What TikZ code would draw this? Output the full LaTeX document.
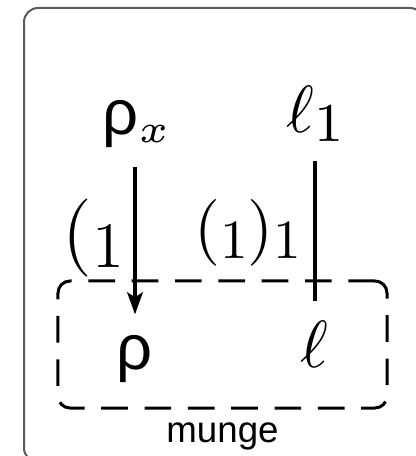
\documentclass[tikz,border=0pt]{standalone}
\usepackage{graphicx}
\usepackage{fontspec}
\usepackage{unicode-math}
\setsansfont{Liberation Sans}
\setmathfont{Latin Modern Math}
\usetikzlibrary{arrows.meta,positioning}
\definecolor{framegray}{RGB}{90,90,90}
\newcommand{\lowsub}[1]{\raisebox{-0.13em}{\scalebox{0.83}{#1}}}

\begin{document}
\begin{tikzpicture}[
  x=0.15pt, y=-0.15pt,
  lbl/.style={inner sep=0pt, anchor=base west},
  sym/.style={inner sep=0pt, anchor=base},
  grpbox/.style={draw, dash pattern=on 4pt off 2.5pt, line width=0.45pt, rounded corners=1.8pt,
    minimum width=49.35pt, minimum height=19.05pt},
  frame/.style={draw=framegray, line width=0.3pt, rounded corners=2.1pt},
  arr/.style={-{Stealth[length=3.3pt, width=2.3pt, inset=0.7pt]}, line width=0.65pt},
  link/.style={line width=0.65pt}
]
\useasboundingbox (0,0) rectangle (416,456);
\clip (0,0) rectangle (416,456);
\draw[frame] (24,8) rectangle (424,462);

\node[lbl, font=\fontsize{9.5}{11}\selectfont\sffamily] (rhox) at (101,135) {ρ\raisebox{-1.2pt}{\fontsize{5.9}{7}\selectfont$x$}};
\node[lbl, font=\fontsize{10}{12}\selectfont] (ell1) at (285,133) {$\ell$\raisebox{-1.35pt}{\fontsize{8.2}{10}\selectfont 1}};
\node[lbl, font=\fontsize{11.7}{14}\selectfont] (lblrho) at (61,257.5) {(\lowsub{1}};
\node[lbl, font=\fontsize{10}{12}\selectfont] (lblell) at (193,250) {(\lowsub{1})\lowsub{1}};
\node[sym, font=\fontsize{9.5}{11}\selectfont\sffamily] (rho) at (135,370) {ρ};
\node[sym, font=\fontsize{10}{12}\selectfont] (ell) at (315,367) {$\ell$};
\node[grpbox] (grp) at (222.5,344.5) {};
\node[inner sep=0pt, below=1.8pt of grp, font=\fontsize{5.5}{7}\selectfont\sffamily] (grplbl) {munge};

\draw[arr, shorten <=2.7pt, shorten >=3pt] (rhox.south -| rho.north) -- (rho.north);
\draw[link, shorten <=2.7pt, shorten >=2.7pt] (ell1.south -| ell.north) -- (ell.north);
\end{tikzpicture}
\end{document}
